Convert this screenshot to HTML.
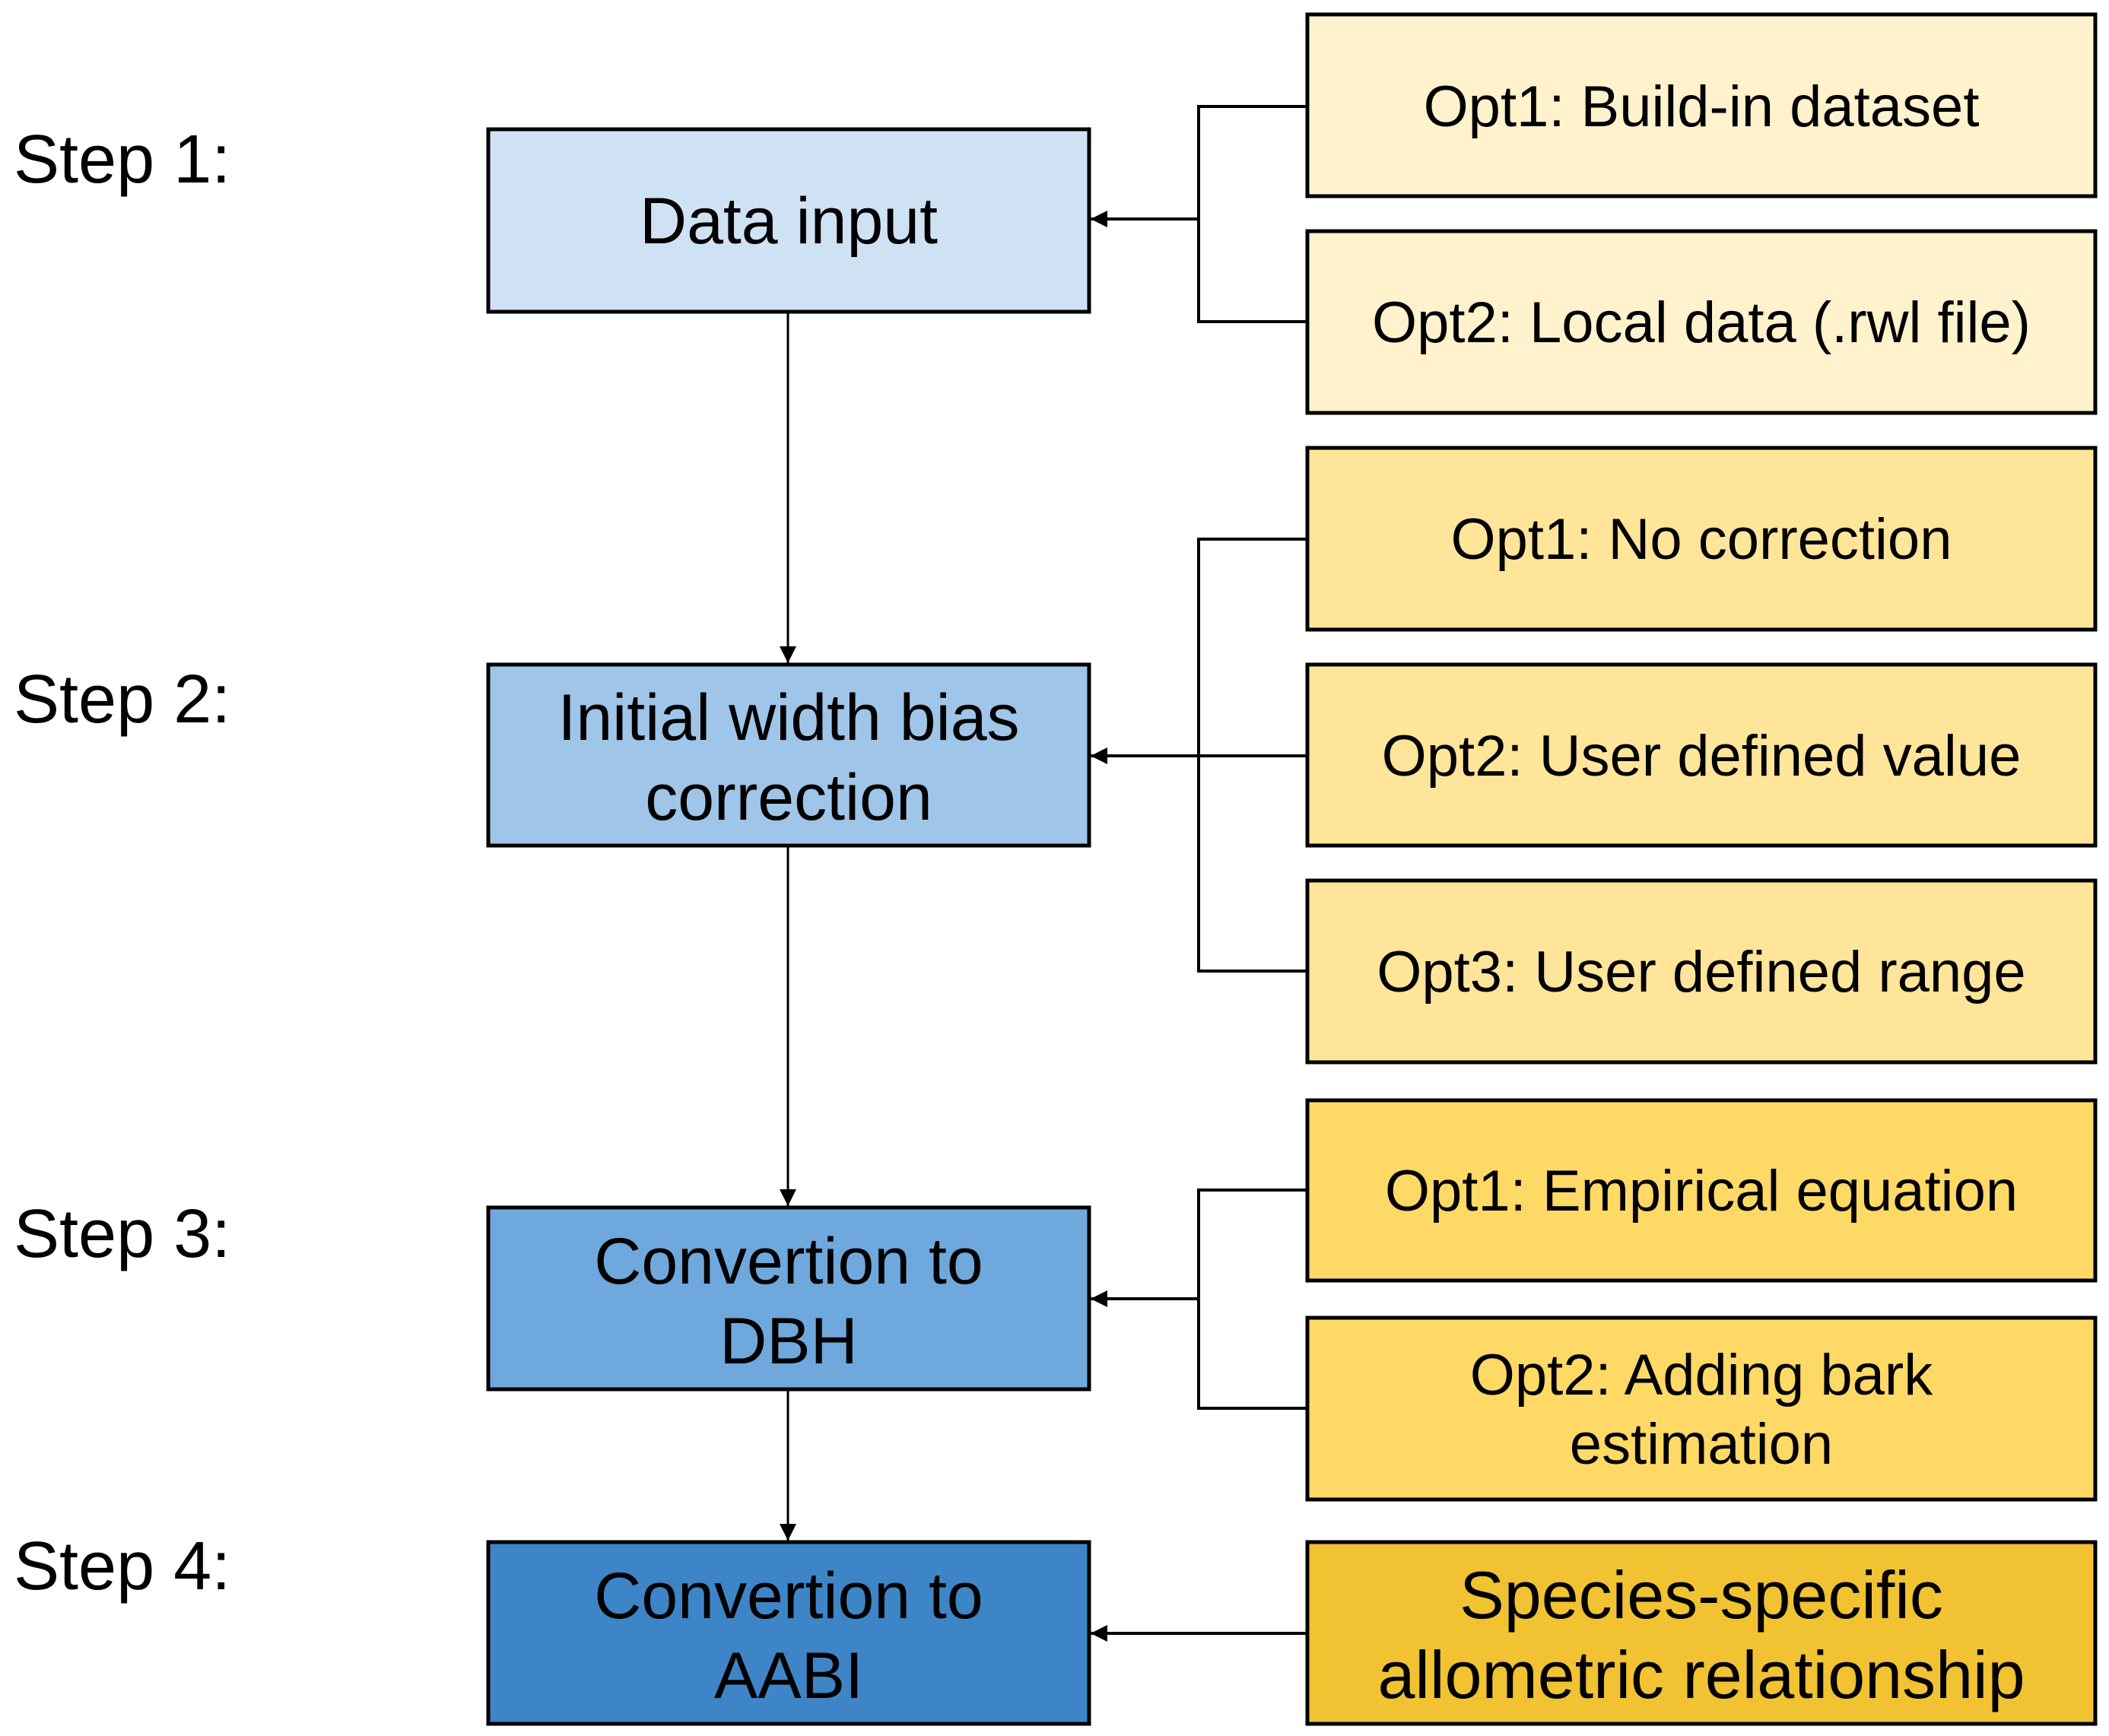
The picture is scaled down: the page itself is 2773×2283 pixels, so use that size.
<!DOCTYPE html>
<html><head><meta charset="utf-8"><style>
html,body{margin:0;padding:0;background:#fff;}
svg{display:block;}
text{font-family:"Liberation Sans",sans-serif;fill:#000;}
</style></head><body>
<svg width="2773" height="2283" viewBox="0 0 2773 2283" xmlns="http://www.w3.org/2000/svg">
<defs>
<marker id="b" viewBox="0 0 10 10" refX="10" refY="5" markerWidth="22" markerHeight="22" orient="auto" markerUnits="userSpaceOnUse"><path d="M0,0 L10,5 L0,10 z" fill="#000"/></marker></defs>
<g font-size="90">
<text x="18" y="240">Step 1:</text>
<text x="18" y="950">Step 2:</text>
<text x="18" y="1653">Step 3:</text>
<text x="18" y="2090">Step 4:</text>
</g>
<g stroke="#000" stroke-width="5">
<rect x="642" y="170" width="790" height="240" fill="#cfe2f3"/>
<rect x="642" y="874" width="790" height="238" fill="#9fc5e8"/>
<rect x="642" y="1588" width="790" height="239" fill="#6fa8dc"/>
<rect x="642" y="2028" width="790" height="239" fill="#3d85c6"/>
<rect x="1719" y="19" width="1036" height="239" fill="#fff2cc"/>
<rect x="1719" y="304" width="1036" height="239" fill="#fff2cc"/>
<rect x="1719" y="589" width="1036" height="239" fill="#ffe599"/>
<rect x="1719" y="874" width="1036" height="238" fill="#ffe599"/>
<rect x="1719" y="1158" width="1036" height="239" fill="#ffe599"/>
<rect x="1719" y="1447" width="1036" height="237" fill="#ffd966"/>
<rect x="1719" y="1733" width="1036" height="239" fill="#ffd966"/>
<rect x="1719" y="2028" width="1036" height="239" fill="#f1c232"/>
</g>
<g stroke="#000" stroke-width="3" fill="none">
<line x1="1036" y1="410" x2="1036" y2="872" marker-end="url(#b)"/>
<line x1="1036" y1="1112" x2="1036" y2="1586" marker-end="url(#b)"/>
<line x1="1036" y1="1827" x2="1036" y2="2026" marker-end="url(#b)"/>
</g>
<g stroke="#000" stroke-width="4" fill="none">
<polyline points="1719,140 1576,140 1576,423 1719,423"/>
<line x1="1576" y1="288" x2="1434" y2="288" marker-end="url(#b)"/>
<polyline points="1719,709 1576,709 1576,1277 1719,1277"/>
<line x1="1719" y1="994" x2="1434" y2="994" marker-end="url(#b)"/>
<polyline points="1719,1565 1576,1565 1576,1852 1719,1852"/>
<line x1="1576" y1="1708" x2="1434" y2="1708" marker-end="url(#b)"/>
<line x1="1719" y1="2148" x2="1434" y2="2148" marker-end="url(#b)"/>
</g>
<g font-size="86" text-anchor="middle">
<text x="1037" y="320">Data input</text>
<text x="1037" y="973">Initial width bias</text>
<text x="1037" y="1078">correction</text>
<text x="1037" y="1688">Convertion to</text>
<text x="1037" y="1793">DBH</text>
<text x="1037" y="2128">Convertion to</text>
<text x="1037" y="2233">AABI</text>
</g>
<g font-size="88" text-anchor="middle">
<text x="2237" y="2128">Species-specific</text>
<text x="2237" y="2233">allometric relationship</text>
</g>
<g font-size="76" text-anchor="middle">
<text x="2237" y="166">Opt1: Build-in dataset</text>
<text x="2237" y="450">Opt2: Local data (.rwl file)</text>
<text x="2237" y="735">Opt1: No correction</text>
<text x="2237" y="1020">Opt2: User defined value</text>
<text x="2237" y="1304">Opt3: User defined range</text>
<text x="2237" y="1592">Opt1: Empirical equation</text>
<text x="2237" y="1834">Opt2: Adding bark</text>
<text x="2237" y="1925">estimation</text>
</g>
</svg>
</body></html>
